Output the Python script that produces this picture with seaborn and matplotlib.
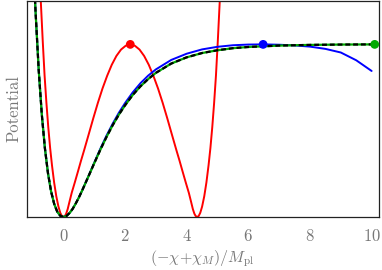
import numpy as np
import pandas as pd
import matplotlib
matplotlib.use('Agg')
import matplotlib.pyplot as plt
import seaborn as sns
from matplotlib.ticker import MultipleLocator

# values (potential normalised to plateau = 1)
green_x = [-0.95, -0.9, -0.8, -0.7, -0.6, -0.5, -0.4, -0.3, -0.2, -0.1, 0.0, 0.1, 0.2, 0.3, 0.4,
           0.5, 0.6, 0.8, 1.0, 1.2, 1.4, 1.6, 1.8, 2.0, 2.25, 2.5, 2.75, 3.0, 3.5, 4.0, 4.5,
           5.0, 5.5, 6.0, 7.0, 8.0, 9.0, 10.1]
green_v = [1.37, 1.18, 0.85, 0.594, 0.399, 0.254, 0.149, 0.077, 0.031, 0.007, 0.0, 0.006, 0.023,
           0.047, 0.078, 0.112, 0.150, 0.230, 0.311, 0.390, 0.464, 0.532, 0.593, 0.647, 0.707,
           0.757, 0.799, 0.835, 0.889, 0.925, 0.950, 0.966, 0.978, 0.985, 0.993, 0.997, 0.999, 1.0]

blue_x = [-0.95, -0.9, -0.8, -0.7, -0.6, -0.5, -0.4, -0.3, -0.2, -0.1, 0.0, 0.1, 0.2, 0.3, 0.4,
          0.5, 0.6, 0.8, 1.0, 1.2, 1.4, 1.6, 1.8, 2.0, 2.25, 2.5, 2.75, 3.0, 3.5, 4.0, 4.5,
          5.0, 5.5, 6.0, 6.5, 7.0, 7.5, 8.0, 8.5, 9.0, 9.5, 10.0]
blue_v = [1.37, 1.18, 0.85, 0.594, 0.399, 0.254, 0.149, 0.077, 0.031, 0.007, 0.0, 0.006, 0.023,
          0.047, 0.078, 0.112, 0.150, 0.231, 0.314, 0.396, 0.472, 0.541, 0.604, 0.660, 0.722,
          0.775, 0.819, 0.855, 0.910, 0.946, 0.971, 0.986, 0.995, 0.999, 1.0, 0.998, 0.994,
          0.987, 0.974, 0.953, 0.908, 0.846]

red_x = [-0.85, -0.79, -0.73, -0.67, -0.61, -0.55, -0.49, -0.43, -0.37, -0.30, -0.23, -0.16,
         -0.10, -0.05, 0.00, 0.05, 0.09, 0.14, 0.20, 0.27, 0.37, 0.47, 0.57, 0.67, 0.82, 0.97,
         1.12, 1.27, 1.42, 1.57, 1.72, 1.87, 2.02, 2.17, 2.32, 2.47, 2.62, 2.77, 2.92, 3.07,
         3.22, 3.37, 3.52, 3.67, 3.77, 3.87, 3.97, 4.07, 4.14, 4.20, 4.25, 4.29, 4.34, 4.39,
         4.44, 4.50, 4.57, 4.64, 4.71, 4.77, 4.83, 4.89, 4.95, 5.01, 5.07, 5.13, 5.19]
red_v = [1.8, 1.5, 1.24, 1.02, 0.82, 0.66, 0.52, 0.40, 0.30, 0.20, 0.12, 0.06, 0.024, 0.006,
         0.0, 0.006, 0.019, 0.046, 0.090, 0.140, 0.200, 0.262, 0.325, 0.385, 0.478, 0.572,
         0.662, 0.745, 0.818, 0.882, 0.933, 0.970, 0.992, 1.0, 0.992, 0.970, 0.933, 0.882,
         0.818, 0.745, 0.662, 0.572, 0.478, 0.385, 0.325, 0.262, 0.200, 0.140, 0.090, 0.046,
         0.019, 0.006, 0.0, 0.006, 0.024, 0.06, 0.12, 0.20, 0.30, 0.40, 0.52, 0.66, 0.82,
         1.02, 1.24, 1.5, 1.8]

max_x = [2.17, 6.48, 10.1]
max_v = [1.0, 1.0, 1.0]
max_colors = ['#ff0000', '#0000ff', '#00aa00']

sns.set_style('white')
plt.rcParams['font.family'] = ['cmr10', 'DejaVu Serif']
plt.rcParams['mathtext.fontset'] = 'cm'
plt.rcParams['axes.formatter.use_mathtext'] = True

gray = '#777777'
fig = plt.figure(figsize=(3.82, 2.70), dpi=100)
ax = fig.add_axes([0.0699, 0.1963, 0.9215, 0.8017])

sns.lineplot(x=red_x, y=red_v, color='#ff0000', lw=1.4, ax=ax)
sns.lineplot(x=blue_x, y=blue_v, color='#0000ff', lw=1.4, ax=ax)
sns.lineplot(x=green_x, y=green_v, color='#00aa00', lw=1.6, ax=ax)
sns.lineplot(x=green_x, y=green_v, color='black', lw=1.6, ax=ax).lines[-1].set_dashes([2.2, 1.3])

sns.scatterplot(x=max_x, y=max_v, hue=[0, 1, 2], palette=max_colors, s=40, edgecolor='none',
                legend=False, ax=ax, zorder=5, clip_on=False)

ax.set_xlim(-1.19, 10.23)
ax.set_ylim(0, 1.254)
ax.set_yticks([])
ax.xaxis.set_major_locator(MultipleLocator(2))
ax.xaxis.set_minor_locator(MultipleLocator(0.5))
ax.tick_params(axis='x', which='both', direction='in', colors='#333333', labelcolor=gray,
               labelsize=12, pad=8)
ax.tick_params(axis='x', which='major', length=3.5, width=0.8)
ax.tick_params(axis='x', which='minor', length=2, width=0.6)
for s in ax.spines.values():
    s.set_color('#222222')
    s.set_linewidth(0.9)

ax.set_xlabel(r'$(-\chi\!+\!\chi_M)/M_{\rm pl}$', color=gray, fontsize=11.5, labelpad=3)
ax.set_ylabel('Potential', color=gray, fontsize=12, labelpad=4)

fig.savefig('out.png', dpi=100)
